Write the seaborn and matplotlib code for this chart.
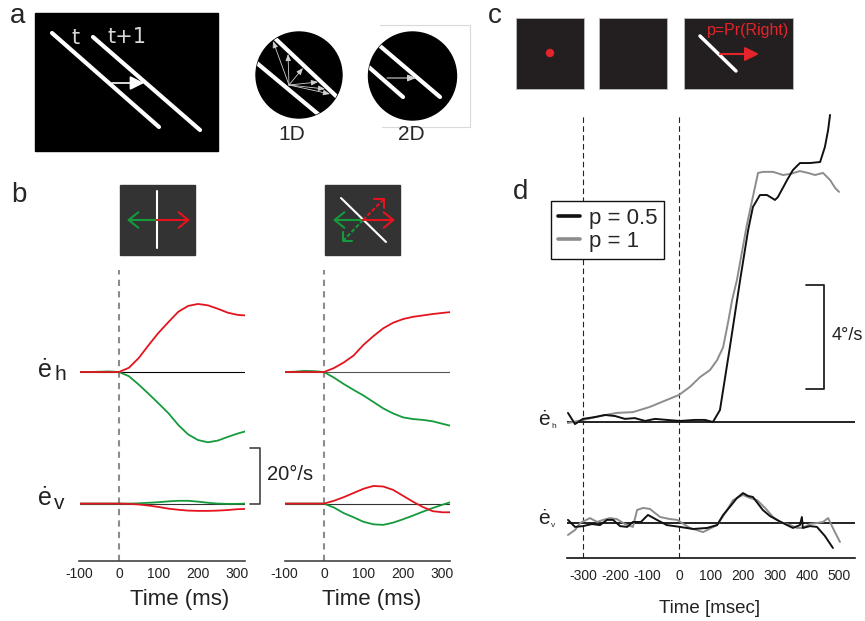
import numpy as np
import pandas as pd
import matplotlib
matplotlib.use('Agg')
import matplotlib.pyplot as plt
import seaborn as sns
from matplotlib.patches import Rectangle, Circle

# ---------------- data ----------------
# panel b: eye velocity (deg/s) vs time (ms)
b_time = [-100, -75, -50, -25, 0, 25, 50, 75, 100, 125, 150, 175, 200, 225, 250, 275, 300, 320]
b1_eh_red = [0, 0, 0, 0, 0, 1.5, 5, 9.6, 14, 17.8, 21.5, 23.6, 24.3, 23.8, 22.6, 21.2, 20.4, 20.2]
b1_eh_green = [0, 0, 0.1, 0.2, 0, -1.5, -4.5, -7.8, -11.2, -14.7, -18.9, -22.3, -24.3, -25.1, -24.5, -23.2, -22, -21.2]
b1_ev_red = [0, 0, 0, 0, 0, -0.1, -0.3, -0.7, -1.2, -1.8, -2.2, -2.5, -2.6, -2.6, -2.5, -2.3, -2.0, -1.9]
b1_ev_green = [0, 0, 0, 0, 0, 0, 0.1, 0.3, 0.5, 0.8, 1.0, 1.0, 0.7, 0.3, 0, -0.1, -0.1, 0]
b2_eh_red = [0, 0, 0, 0, 0, 1.4, 3.4, 5.9, 9.7, 12.8, 15.6, 17.6, 18.9, 19.7, 20.2, 20.7, 21.1, 21.4]
b2_eh_green = [0, 0.1, 0.4, 0.3, 0, -2, -4.3, -6.4, -8.4, -10.7, -13, -14.8, -16.2, -16.8, -17.1, -17.6, -18.5, -19.2]
b2_ev_red = [0, 0, 0, 0, 0, 1.0, 2.3, 3.8, 5.3, 6.3, 6.1, 4.9, 2.8, 0.7, -1.2, -2.7, -3.1, -3.1]
b2_ev_green = [0, 0, 0, 0, 0, -1.4, -3.4, -4.9, -6.5, -7.4, -7.6, -6.8, -5.6, -4.3, -2.9, -1.6, -0.4, 0.5]
b_ticks = [-100, 0, 100, 200, 300]

# panel d: p = 0.5 (black) and p = 1 (gray)
d_eh_black_t = [-347, -325, -300, -262, -231, -200, -169, -138, -106, -75, -38, 3, 50, 81, 106, 128,
                159, 191, 216, 231, 253, 275, 300, 309, 338, 356, 378, 409, 441, 456, 466, 472]
d_eh_black_v = [0.35, -0.08, 0.12, 0.19, 0.27, 0.23, 0.12, 0.15, 0.04, 0.12, 0.08, 0.04, 0.08, 0.08, 0, 0.46,
                2.88, 5.46, 7.38, 8.27, 8.73, 8.73, 8.54, 8.65, 9.31, 9.69, 9.96, 9.96, 10.0, 10.58, 11.23, 11.81]
d_eh_gray_t = [-347, -300, -247, -194, -144, -91, -38, 0, 34, 66, 97, 119, 138, 153, 166, 181, 212,
               247, 263, 294, 325, 347, 378, 403, 425, 450, 472, 488, 500]
d_eh_gray_v = [-0.04, 0.08, 0.23, 0.35, 0.38, 0.58, 0.85, 1.04, 1.35, 1.73, 2.0, 2.38, 2.88, 3.81, 4.69, 5.46, 7.58,
               9.58, 9.62, 9.62, 9.5, 9.54, 9.65, 9.58, 9.5, 9.58, 9.31, 9.0, 8.85]
d_ev_black_t = [-347, -325, -300, -272, -247, -225, -206, -184, -162, -144, -119, -97, -69, -38, 3, 44, 88,
                119, 138, 159, 181, 200, 216, 231, 262, 284, 306, 331, 356, 378, 384, 387, 409, 431, 456, 481]
d_ev_black_v = [0.12, -0.15, -0.12, -0.04, -0.08, 0.12, 0.12, -0.12, -0.15, 0.04, 0.04, 0.31, 0.12, -0.08, -0.15,
                -0.23, -0.19, -0.08, 0.31, 0.62, 0.96, 1.15, 1.04, 1.0, 0.5, 0.27, 0.12, -0.04, -0.19, -0.08,
                0.23, -0.19, -0.12, -0.15, -0.5, -0.96]
d_ev_gray_t = [-347, -325, -309, -278, -256, -237, -216, -194, -169, -144, -131, -112, -91, -59, -28, -6, 34,
               75, 119, 144, 169, 200, 222, 244, 269, 294, 316, 347, 369, 387, 409, 431, 450, 466, 484, 503]
d_ev_gray_v = [-0.46, -0.27, 0, 0.19, 0.04, 0.12, 0.19, 0.15, -0.04, -0.15, 0.5, 0.58, 0.54, 0.23, 0.15, 0.12,
               -0.19, -0.35, -0.08, 0.38, 0.88, 1.08, 0.96, 0.88, 0.58, 0.23, 0.04, -0.08, -0.19, -0.19, -0.04,
               0, 0.04, 0.19, -0.27, -0.73]
d_ticks = [-300, -200, -100, 0, 100, 200, 300, 400, 500]
d_labels = ['p = 0.5', 'p = 1']

# ---------------- style ----------------
RED = '#e3141e'
GREEN = '#159a3c'
sns.set_theme(style='white')
plt.rcParams['font.family'] = ['Liberation Sans', 'DejaVu Sans']

W, H = 865, 621
fig = plt.figure(figsize=(W / 100, H / 100), dpi=100)
fig.patch.set_facecolor('white')

# overlay in pixel coordinates for the schematic drawings and labels
ov = fig.add_axes([0, 0, 1, 1], zorder=0)
ov.set_xlim(0, W)
ov.set_ylim(H, 0)
ov.axis('off')


def arrow(p0, p1, color, lw=1.5, style='->', ms=14, ls='-'):
    ov.annotate('', xy=p1, xytext=p0,
                arrowprops=dict(arrowstyle=style, color=color, lw=lw, mutation_scale=ms,
                                linestyle=ls, shrinkA=0, shrinkB=0))


# ---- panel a ----
ov.text(10, 23, 'a', fontsize=20)
ov.add_patch(Rectangle((35, 13), 183, 138, color='black'))
ov.plot([52, 159], [33, 127], color='white', lw=3)
ov.plot([93, 200], [37, 130], color='white', lw=3)
ov.text(76, 38, 't', color='#d8d8d8', fontsize=15, family='DejaVu Sans', ha='center', va='center')
ov.text(127, 37, 't+1', color='#d8d8d8', fontsize=15, family='DejaVu Sans', ha='center', va='center')
arrow((112, 83), (144, 83), 'white', lw=1.2, style='-|>,head_length=0.6,head_width=0.3', ms=14)

c1 = Circle((299, 75), 43, color='black')
ov.add_patch(c1)
for seg in [((240, 49), (330, 124)), ((262, 26), (336, 96))]:
    ln, = ov.plot([seg[0][0], seg[1][0]], [seg[0][1], seg[1][1]], color='white', lw=3,
                  solid_capstyle='round')
    ln.set_clip_path(c1)
for end in [(273, 41), (288, 54), (303, 68), (318, 82), (325, 89), (330, 94)]:
    arrow((289, 85), end, '#d0d0d0', lw=0.6, style='-|>,head_length=0.5,head_width=0.2', ms=8)
ov.text(292, 140, '1D', fontsize=15, ha='center')

c2 = Circle((412.5, 76), 44, color='black')
ov.add_patch(c2)
for seg in [((355, 55), (403, 97)), ((360, 29), (440, 97))]:
    ln, = ov.plot([seg[0][0], seg[1][0]], [seg[0][1], seg[1][1]], color='white', lw=3,
                  solid_capstyle='round')
    ln.set_clip_path(c2)
arrow((387, 78), (416, 78), '#d0d0d0', lw=0.8, style='-|>,head_length=0.5,head_width=0.2', ms=10)
ov.plot([380, 470, 470, 382], [25, 25, 127, 127], color='#d9d9d9', lw=0.8)
ov.text(411, 140, '2D', fontsize=15, ha='center')

# ---- panel b icons ----
ov.text(11, 202, 'b', fontsize=20)
for x0 in (120, 325):
    ov.add_patch(Rectangle((x0, 185), 75, 70, color='#333333'))
ov.plot([157, 157], [191, 248], color='white', lw=1.5)
arrow((157, 220), (127, 220), GREEN, style='->,head_length=0.5,head_width=0.4')
arrow((157, 220), (190, 220), RED, style='->,head_length=0.5,head_width=0.4')
ov.plot([341, 386], [198, 242], color='white', lw=1.5)
arrow((363, 220), (333, 220), GREEN, style='->,head_length=0.5,head_width=0.4')
arrow((363, 220), (395, 220), RED, style='->,head_length=0.5,head_width=0.4')
ov.plot([363, 383], [220, 200], color=RED, lw=1.5, ls=(0, (2, 1)))
ov.plot([374, 384, 384], [199, 199, 208], color=RED, lw=1.5)
ov.plot([363, 344], [220, 240], color=GREEN, lw=1.5, ls=(0, (2, 1)))
ov.plot([343, 343, 352], [232, 241, 241], color=GREEN, lw=1.5)

# ---- panel c ----
ov.text(488, 23, 'c', fontsize=20)
for x0, w in [(516, 68), (599, 68), (684, 109)]:
    ov.add_patch(Rectangle((x0, 18), w, 71, facecolor='#231f20', edgecolor='#bdbdbd', lw=0.6))
ov.add_patch(Circle((550, 53), 3.5, color='#e3242b'))
ov.plot([700, 736], [36, 71], color='white', lw=2.5)
arrow((720, 54), (759, 54), '#e3242b', lw=1.5, style='-|>,head_length=0.6,head_width=0.3', ms=14)
ov.text(748, 30, 'p=Pr(Right)', color='#e3242b', fontsize=11.5, ha='center', va='center')
ov.text(513, 199, 'd', fontsize=20)


# ---------------- trace axes ----------------
def trace_axes(x0, x1, y0, y1):
    ax = fig.add_axes([x0 / W, 1 - y1 / H, (x1 - x0) / W, (y1 - y0) / H], zorder=1)
    ax.patch.set_alpha(0)
    return ax


def draw(ax, t, v, color, lw=1.3, label=None):
    df = pd.DataFrame({'time': t, 'vel': v})
    sns.lineplot(data=df, x='time', y='vel', color=color, lw=lw, ax=ax, sort=False,
                 estimator=None, label=label, legend=False)


# panel b: px mapping 0.395 px/ms, 2.8 px per deg/s
B_EV_OFF = 47.0
b_panels = [
    (119, b1_eh_red, b1_eh_green, b1_ev_red, b1_ev_green, 'black'),
    (324, b2_eh_red, b2_eh_green, b2_ev_red, b2_ev_green, '#555555'),
]
b_axes = []
for zero_x, ehr, ehg, evr, evg, base_c in b_panels:
    x0 = zero_x - 100 * 0.395
    x1 = zero_x + 320 * 0.395
    ax = trace_axes(x0, x1, 270, 561)
    ylim = (-(561 - 372) / 2.8, (372 - 270) / 2.8)
    ax.axhline(0, color=base_c, lw=0.8, zorder=1)
    ax.axhline(-B_EV_OFF, color='#333333', lw=0.8, zorder=1)
    ax.axvline(0, color='#8c8c8c', lw=1.5, ls=(0, (3, 2.5)), zorder=1)
    draw(ax, b_time, ehg, GREEN)
    draw(ax, b_time, ehr, RED)
    draw(ax, b_time, np.array(evg) - B_EV_OFF, GREEN)
    draw(ax, b_time, np.array(evr) - B_EV_OFF, RED)
    ax.set_xlim(-100, 320)
    ax.set_ylim(*ylim)
    ax.set_xlabel('')
    ax.set_ylabel('')
    ax.set_yticks([])
    ax.set_xticks(b_ticks)
    ax.set_xticklabels([str(t) for t in b_ticks], fontsize=10)
    ax.tick_params(axis='x', direction='in', length=3, width=1, color='#444444', pad=4,
                   labelcolor='#222222')
    sns.despine(ax=ax, left=True)
    ax.spines['bottom'].set_color('#444444')
    ax.spines['bottom'].set_linewidth(1.2)
    b_axes.append(ax)

# 20 deg/s scale bar next to the left column
SCALE_B = 20
b_axes[0].plot([332, 357, 357, 332], [-B_EV_OFF + SCALE_B, -B_EV_OFF + SCALE_B, -B_EV_OFF, -B_EV_OFF],
               color='#444444', lw=1.2, clip_on=False)
ov.text(267, 474, '20°/s', fontsize=14.5, va='center', color='#222222')
ov.text(180, 605, 'Time (ms)', fontsize=16, ha='center', color='#222222')
ov.text(372, 605, 'Time (ms)', fontsize=16, ha='center', color='#222222')
ov.text(38, 377, 'ė', fontsize=18, color='#222222')
ov.text(54, 380, 'h', fontsize=15, color='#222222')
ov.text(38, 505, 'ė', fontsize=18, color='#222222')
ov.text(54, 509, 'v', fontsize=15, color='#222222')

# panel d: px mapping 0.32 px/ms, 26 px per deg/s
D_EV_OFF = (523 - 422) / 26
axd = trace_axes(679 - 350 * 0.32, 679 + 550 * 0.32, 110, 558)
axd.axhline(0, color='#111111', lw=1.3, zorder=1)
axd.axhline(-D_EV_OFF, color='#111111', lw=1.3, zorder=1)
d_ylim = (-(558 - 422) / 26, (422 - 110) / 26)
for t in (-300, 0):
    axd.plot([t, t], [d_ylim[0], 11.8], color='#222222', lw=0.8, ls=(0, (5, 3)))
draw(axd, d_eh_gray_t, d_eh_gray_v, '#8c8c8c', lw=1.4, label=d_labels[1])
draw(axd, d_eh_black_t, d_eh_black_v, '#111111', lw=1.4, label=d_labels[0])
draw(axd, d_ev_gray_t, np.array(d_ev_gray_v) - D_EV_OFF, '#8c8c8c', lw=1.4)
draw(axd, d_ev_black_t, np.array(d_ev_black_v) - D_EV_OFF, '#111111', lw=1.4)
axd.set_xlim(-350, 550)
axd.set_ylim(*d_ylim)
axd.set_xlabel('')
axd.set_ylabel('')
axd.set_yticks([])
axd.set_xticks(d_ticks)
axd.set_xticklabels([str(t) for t in d_ticks], fontsize=10)
axd.tick_params(axis='x', direction='out', length=5, width=1, color='#111111', pad=3,
                labelcolor='#222222')
sns.despine(ax=axd, left=True)
axd.spines['bottom'].set_color('#111111')
axd.spines['bottom'].set_linewidth(1.2)

SCALE_D = 4
d_bar_lo = (422 - 389) / 26
axd.plot([397, 453, 453, 397], [d_bar_lo + SCALE_D, d_bar_lo + SCALE_D, d_bar_lo, d_bar_lo],
         color='#222222', lw=1.3, clip_on=False)
ov.text(832, 336, '4°/s', fontsize=13, va='center', color='#222222')
ov.text(710, 613, 'Time [msec]', fontsize=13.5, ha='center', color='#222222')
ov.text(538, 425, 'ė', fontsize=15, color='#222222')
ov.text(551, 428, 'h', fontsize=6, color='#222222')
ov.text(538, 524, 'ė', fontsize=15, color='#222222')
ov.text(551, 527, 'v', fontsize=6, color='#222222')

lines = axd.get_lines()
h_black = [l for l in lines if l.get_label() == d_labels[0]][0]
h_gray = [l for l in lines if l.get_label() == d_labels[1]][0]
leg = axd.legend([h_black, h_gray], d_labels, loc='upper left',
                 bbox_to_anchor=(551 / W, 1 - 201 / H), bbox_transform=fig.transFigure,
                 borderaxespad=0, fontsize=16, frameon=True, fancybox=False, framealpha=1,
                 edgecolor='#111111', handlelength=1.0, handletextpad=0.4, borderpad=0.3,
                 labelspacing=0.1)
leg.get_frame().set_linewidth(1.0)
for lh in leg.get_lines():
    lh.set_linewidth(2.6)

fig.savefig('out.png', dpi=100, facecolor='white')
